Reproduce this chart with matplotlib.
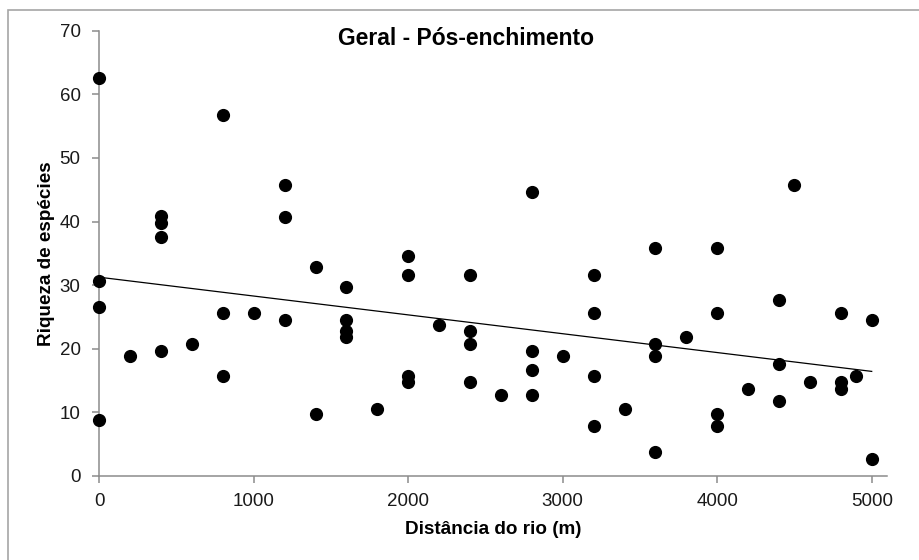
import numpy as np
import matplotlib.pyplot as plt
from matplotlib.patches import Rectangle

plt.rcParams['font.family'] = ['Liberation Sans', 'DejaVu Sans']

# distância do rio (m) e riqueza de espécies
distancia = [0, 0, 0, 0,
             200,
             400, 400, 400, 400,
             600,
             800, 800, 800,
             1000,
             1200, 1200, 1200,
             1400, 1400,
             1600, 1600, 1600, 1600,
             1800,
             2000, 2000, 2000, 2000,
             2200,
             2400, 2400, 2400, 2400,
             2600,
             2800, 2800, 2800, 2800,
             3000,
             3200, 3200, 3200, 3200,
             3400,
             3600, 3600, 3600, 3600,
             3800,
             4000, 4000, 4000, 4000,
             4200,
             4400, 4400, 4400,
             4500,
             4600,
             4800, 4800, 4800,
             4900,
             5000, 5000]
riqueza = [62.6, 30.7, 26.6, 8.8,
           18.8,
           40.8, 39.8, 37.6, 19.7,
           20.7,
           56.7, 25.7, 15.7,
           25.7,
           45.8, 40.7, 24.6,
           32.8, 9.7,
           29.7, 24.6, 22.8, 21.8,
           10.6,
           34.6, 31.6, 15.7, 14.8,
           23.7,
           31.6, 22.8, 20.7, 14.8,
           12.7,
           44.6, 19.7, 16.7, 12.7,
           18.8,
           31.6, 25.7, 15.7, 7.9,
           10.6,
           35.8, 20.7, 18.8, 3.7,
           21.8,
           35.8, 25.7, 9.7, 7.9,
           13.7,
           27.6, 17.6, 11.8,
           45.8,
           14.8,
           25.7, 14.8, 13.7,
           15.7,
           24.6, 2.7]

x_ticks = [0, 1000, 2000, 3000, 4000, 5000]
y_ticks = [0, 10, 20, 30, 40, 50, 60, 70]

AXIS_GRAY = '#8c8c8c'

fig = plt.figure(figsize=(9.2, 5.6), dpi=100)
# moldura externa do gráfico (Excel)
fig.patches.append(Rectangle((8 / 920, -0.1), 1.2, 1.1 - 10 / 560, transform=fig.transFigure,
                             fill=False, edgecolor='#a6a6a6', linewidth=1.2))

ax = fig.add_axes([0.1079, 0.15, 0.8559, 0.7952])
ax.scatter(distancia, riqueza, s=72, color='black', zorder=3, clip_on=False)

# linha de tendência linear
coef = np.polyfit(distancia, riqueza, 1)
xt = np.array([0, 5000])
ax.plot(xt, np.polyval(coef, xt) + 0.3, color='black', linewidth=0.9, zorder=2)

ax.set_xlim(0, 5097)
ax.set_ylim(0, 70)
ax.set_xticks(x_ticks)
ax.set_yticks(y_ticks)
for s in ['top', 'right']:
    ax.spines[s].set_visible(False)
for s in ['left', 'bottom']:
    ax.spines[s].set_color(AXIS_GRAY)
    ax.spines[s].set_linewidth(1.1)
ax.tick_params(axis='both', direction='out', length=5, width=1.1, color=AXIS_GRAY,
               labelsize=13.5, labelcolor='#1a1a1a', pad=7)
ax.tick_params(axis='y', pad=8.5)

fig.text(0.507, 0.931, 'Geral - Pós-enchimento', fontsize=16.5, fontweight='bold',
         ha='center', va='center')
ax.set_xlabel('Distância do rio (m)', fontsize=13.6, fontweight='bold', labelpad=8.5)
ax.set_ylabel('Riqueza de espécies', fontsize=13.6, fontweight='bold', labelpad=3)

fig.savefig('out.png', dpi=100)
